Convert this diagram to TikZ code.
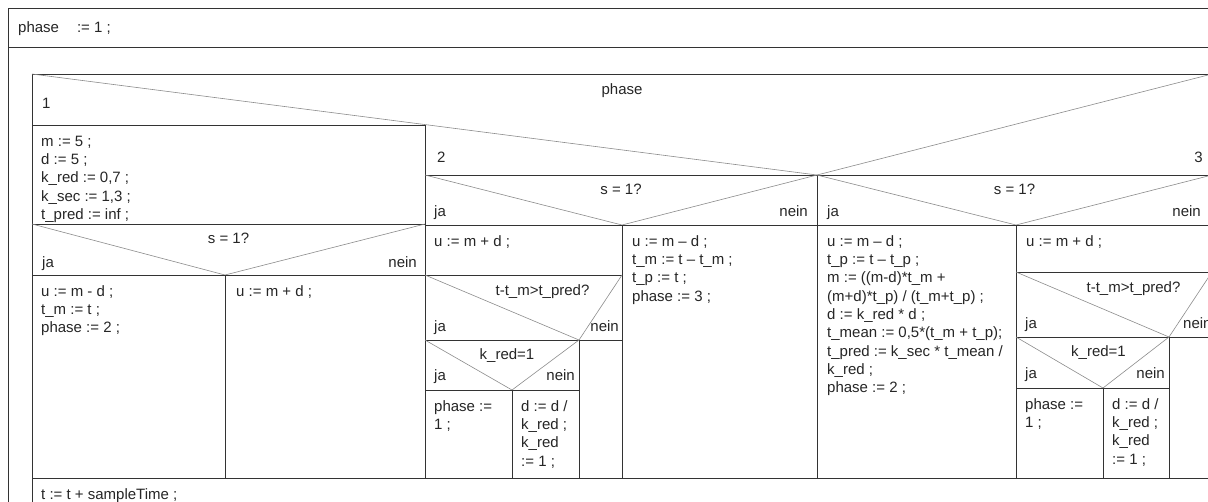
\documentclass[tikz,border=0pt]{standalone}
\usepackage{fontspec}
\setmainfont{Liberation Sans}
\begin{document}
\begin{tikzpicture}[x=1pt,y=-1pt,
  frame/.style={draw=black!80, line width=0.8pt},
  diag/.style={draw=black!45, line width=0.6pt},
  txt/.style={inner sep=0pt, font=\fontsize{15}{18.3}\selectfont, align=left, anchor=north west, text=black!85},
  lbl/.style={inner sep=0pt, font=\fontsize{15}{18}\selectfont, text=black!85},
  lw/.style={lbl, anchor=base west},
  le/.style={lbl, anchor=base east},
  lc/.style={lbl, anchor=base}]
\useasboundingbox (0,0) rectangle (1208,501);
\fill[white] (0,0) rectangle (1208,501);
\clip (0,0) rectangle (1208,501);
% outer frame
\draw[frame] (8,520) -- (8,8) -- (1240,8);
\draw[frame] (8,47) -- (1240,47);
% nested case box
\draw[frame] (32,520) -- (32,74) -- (1212,74) -- (1212,478);
\draw[diag] (32,74) -- (817,175) -- (1212,74);
\draw[frame] (32,125) -- (425,125);
\draw[frame] (425,175) -- (1212,175);
\draw[frame] (425,125) -- (425,478);
\draw[frame] (817,175) -- (817,478);
\draw[frame] (32,478) -- (1240,478);
% column 1
\draw[frame] (32,224) -- (425,224);
\draw[diag] (32,224) -- (225,275) -- (425,224);
\draw[frame] (32,275) -- (425,275);
\draw[frame] (225,275) -- (225,478);
% column 2
\draw[diag] (425,175) -- (622,225) -- (817,175);
\draw[frame] (425,225) -- (817,225);
\draw[frame] (622,225) -- (622,478);
\draw[frame] (425,275) -- (622,275);
\draw[diag] (425,275) -- (579,340) -- (622,275);
\draw[frame] (425,340) -- (622,340);
\draw[frame] (579,340) -- (579,478);
\draw[diag] (425,340) -- (512,390) -- (579,340);
\draw[frame] (425,390) -- (579,390);
\draw[frame] (512,390) -- (512,478);
% column 3
\draw[diag] (817,175) -- (1016,225) -- (1212,175);
\draw[frame] (817,225) -- (1212,225);
\draw[frame] (1016,225) -- (1016,478);
\draw[frame] (1016,272) -- (1212,272);
\draw[diag] (1016,272) -- (1169,337) -- (1212,272);
\draw[frame] (1016,337) -- (1212,337);
\draw[frame] (1169,337) -- (1169,478);
\draw[diag] (1016,337) -- (1103,388) -- (1169,337);
\draw[frame] (1016,388) -- (1169,388);
\draw[frame] (1103,388) -- (1103,478);

% texts
\node[lw] (init) at (18,32) {phase\hspace{18pt}:= 1 ;};
\node[lc] (sel) at (622,94) {phase};
\node[lw] (c1) at (42,108) {1};
\node[lw] (c2) at (437,162) {2};
\node[le] (c3) at (1203,162) {3};

% column 1
\node[txt] (b1) at (41,132) {\rule{0pt}{14pt}m := 5 ;\\d := 5 ;\\k\_red := 0,7 ;\\k\_sec := 1,3 ;\\t\_pred := inf ;};
\node[lc] (q1) at (228.5,243) {s = 1?};
\node[lw] (q1j) at (42,267) {ja};
\node[le] (q1n) at (417,267) {nein};
\node[txt] (b1j) at (41,282) {\rule{0pt}{14pt}u := m - d ;\\t\_m := t ;\\phase := 2 ;};
\node[txt] (b1n) at (236,282) {\rule{0pt}{14pt}u := m + d ;};

% column 2
\node[lc] (q2) at (621,194) {s = 1?};
\node[lw] (q2j) at (434,216) {ja};
\node[le] (q2n) at (808,216) {nein};
\node[txt] (b2a) at (434,232) {\rule{0pt}{14pt}u := m + d ;};
\node[lc] (q2b) at (542.5,295) {t-t\_m>t\_pred?};
\node[lw] (q2bj) at (434,331) {ja};
\node[le] (q2bn) at (619,331) {nein};
\node[lc] (q2c) at (507,359) {k\_red=1};
\node[lw] (q2cj) at (434,380) {ja};
\node[le] (q2cn) at (575,380) {nein};
\node[txt] (b2cj) at (434,397) {\rule{0pt}{14pt}phase :=\\1 ;};
\node[txt] (b2cn) at (521,397) {\rule{0pt}{14pt}d := d /\\k\_red ;\\k\_red\\:= 1 ;};
\node[txt] (b2n) at (632,232) {\rule{0pt}{14pt}u := m – d ;\\t\_m := t – t\_m ;\\t\_p := t ;\\phase := 3 ;};

% column 3
\node[lc] (q3) at (1014.5,194) {s = 1?};
\node[lw] (q3j) at (827,216) {ja};
\node[le] (q3n) at (1201,216) {nein};
\node[txt] (b3j) at (827,232) {\rule{0pt}{14pt}u := m – d ;\\t\_p := t – t\_p ;\\m := ((m-d)*t\_m +\\(m+d)*t\_p) / (t\_m+t\_p) ;\\d := k\_red * d ;\\t\_mean := 0,5*(t\_m + t\_p);\\t\_pred := k\_sec * t\_mean /\\k\_red ;\\phase := 2 ;};
\node[txt] (b3a) at (1026,232) {\rule{0pt}{14pt}u := m + d ;};
\node[lc] (q3b) at (1133.5,292) {t-t\_m>t\_pred?};
\node[lw] (q3bj) at (1025,328) {ja};
\node[lw] (q3bn) at (1183,328) {nein};
\node[lc] (q3c) at (1098.5,356) {k\_red=1};
\node[lw] (q3cj) at (1025,378) {ja};
\node[le] (q3cn) at (1165,378) {nein};
\node[txt] (b3cj) at (1025,395) {\rule{0pt}{14pt}phase :=\\1 ;};
\node[txt] (b3cn) at (1112,395) {\rule{0pt}{14pt}d := d /\\k\_red ;\\k\_red\\:= 1 ;};

% bottom
\node[txt] (last) at (41,485) {\rule{0pt}{14pt}t := t + sampleTime ;};
\end{tikzpicture}
\end{document}
